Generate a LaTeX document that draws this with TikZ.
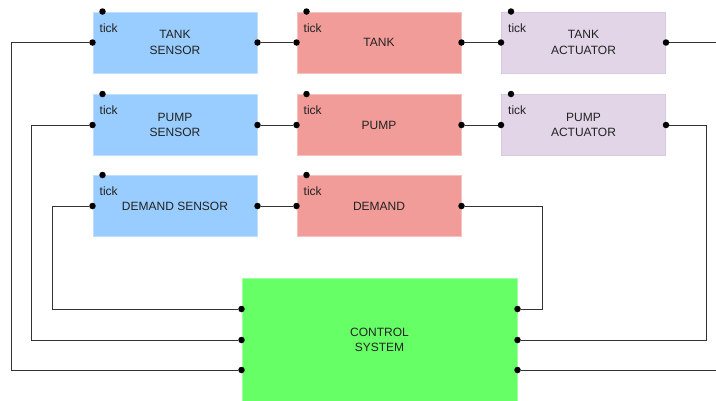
\documentclass[tikz,border=0pt]{standalone}
\usepackage{fontspec}
\setmainfont{Liberation Sans}
\usetikzlibrary{backgrounds}
\definecolor{sensorfill}{HTML}{99CCFF}
\definecolor{sensorline}{HTML}{BFDFFF}
\definecolor{plantfill}{HTML}{F19C99}
\definecolor{plantline}{HTML}{F6C2C0}
\definecolor{actfill}{HTML}{E1D5E7}
\definecolor{actline}{HTML}{D6CCDD}
\definecolor{ctrlfill}{HTML}{66FF66}
\definecolor{ctrlline}{HTML}{A0FFA0}
\definecolor{wirecol}{HTML}{333333}
\definecolor{textcol}{HTML}{222222}
\begin{document}
\begin{tikzpicture}[x=1pt,y=-1pt,
  block/.style={rectangle, inner sep=0pt, minimum width=164pt, minimum height=61pt,
    align=center, font=\fontsize{12}{15.5}\selectfont, text=textcol, line width=1pt},
  sensorbox/.style={block, fill=sensorfill, draw=sensorline},
  plantbox/.style={block, fill=plantfill, draw=plantline},
  actbox/.style={block, fill=actfill, draw=actline},
  ctrlbox/.style={block, fill=ctrlfill, draw=ctrlline, minimum width=275pt, minimum height=124pt},
  port/.style={circle, fill=black, inner sep=0pt, minimum size=6.5pt},
  wire/.style={draw=wirecol, line width=1pt},
  ticklabel/.style={font=\fontsize{12}{14}\selectfont, text=textcol, inner sep=0pt, anchor=west}
]
\clip (0,0) rectangle (716,400);

% blocks
\node[sensorbox] (ts) at (175,42.5) {TANK\\SENSOR};
\node[plantbox]  (tk) at (379,42.5) {TANK};
\node[actbox]    (ta) at (583.5,42.5) {TANK\\ACTUATOR};
\node[sensorbox] (ps) at (175,125) {PUMP\\SENSOR};
\node[plantbox]  (pp) at (379,125) {PUMP};
\node[actbox]    (pa) at (583.5,125) {PUMP\\ACTUATOR};
\node[sensorbox] (ds) at (175,206) {DEMAND SENSOR};
\node[plantbox]  (dm) at (379,206) {DEMAND};
\node[ctrlbox]   (cs) at (379.5,340) {CONTROL\\SYSTEM};

% tick inputs and labels
\foreach \b in {ts,tk,ta,ps,pp,pa,ds,dm}{
  \node[port] (\b-tick) at ([xshift=10pt]\b.north west) {};
  \node[ticklabel] (\b-ticklabel) at ([shift={(7,16.5)}]\b.north west) {tick};
}

% in/out ports of the blocks
\foreach \b in {ts,tk,ta,ps,pp,pa,ds,dm}{
  \node[port] (\b-in) at (\b.west) {};
  \node[port] (\b-out) at (\b.east) {};
}
\node[port] (cs-l1) at ([yshift=31pt]cs.west) {};
\node[port] (cs-l2) at (cs.west) {};
\node[port] (cs-l3) at ([yshift=-30pt]cs.west) {};
\node[port] (cs-r1) at ([yshift=31pt]cs.east) {};
\node[port] (cs-r2) at (cs.east) {};
\node[port] (cs-r3) at ([yshift=-30pt]cs.east) {};

\coordinate (ta-end) at (716,42.5);
\coordinate (cs-end) at (716,370);

\begin{scope}[on background layer]
\fill[white] (0,0) rectangle (716,400);
% connections along each row
\draw[wire] (ts-out) -- (tk-in);
\draw[wire] (tk-out) -- (ta-in);
\draw[wire] (ps-out) -- (pp-in);
\draw[wire] (pp-out) -- (pa-in);
\draw[wire] (ds-out) -- (dm-in);
\draw[wire] (ta-out) -- (ta-end);
\draw[wire] (cs-r3) -- (cs-end);

% sensor readings to the controller
\draw[wire] (ts-in) -- ++(-81,0) |- (cs-l3);
\draw[wire] (ps-in) -- ++(-61,0) |- (cs-l2);
\draw[wire] (ds-in) -- ++(-40,0) |- (cs-l1);

% controller to demand and pump actuator
\draw[wire] (dm-out) -- ++(81,0) |- (cs-r1);
\draw[wire] (pa-out) -- ++(40.5,0) |- (cs-r2);
\end{scope}
\end{tikzpicture}
\end{document}
